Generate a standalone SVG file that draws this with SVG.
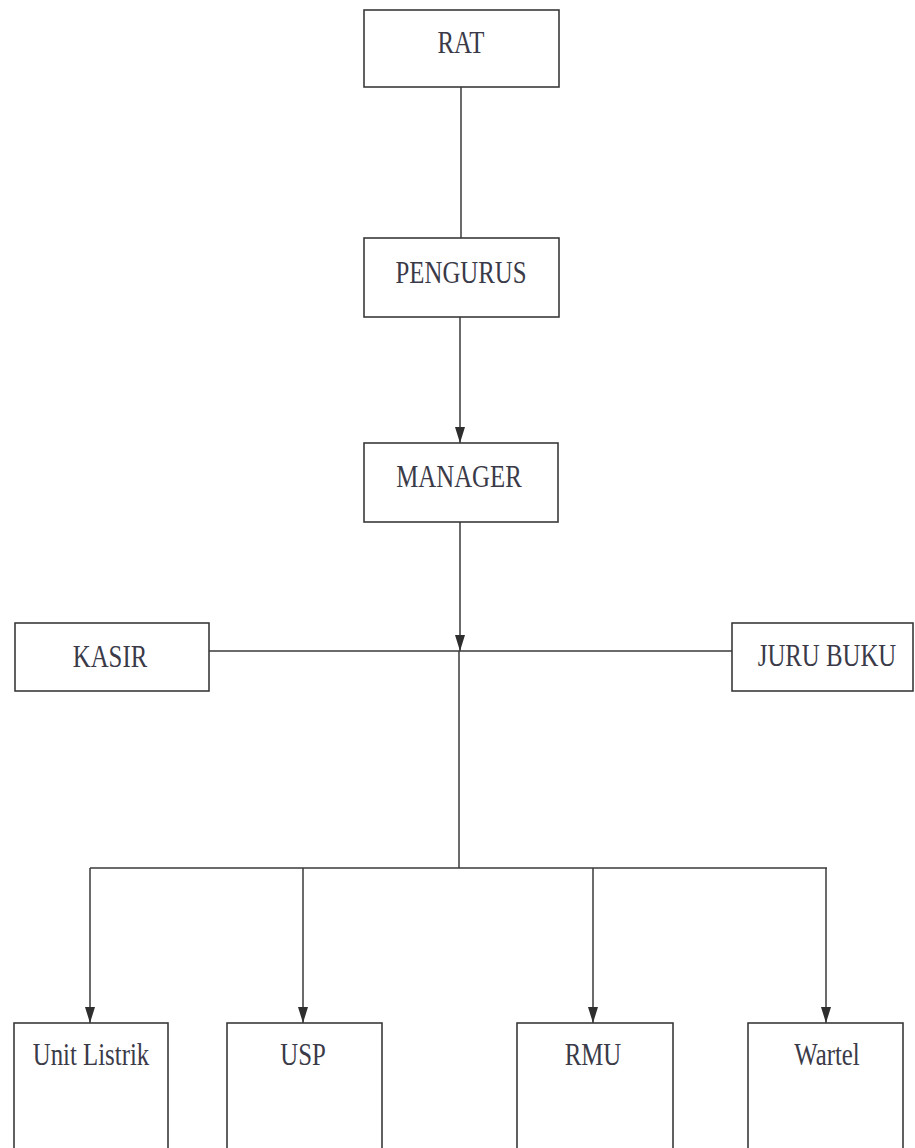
<svg xmlns="http://www.w3.org/2000/svg" width="915" height="1148" viewBox="0 0 915 1148">
<style>
.box{fill:#fff;stroke:#3a3a3a;stroke-width:1.6}
.lbl{font-family:'Times New Roman',Times,'Liberation Serif',serif;font-size:31px;fill:#3a3a48;text-anchor:middle}
.ln{fill:none;stroke:#3a3a3a;stroke-width:1.5}
</style>
<defs>
<marker id="ah" markerUnits="userSpaceOnUse" markerWidth="17" markerHeight="11" refX="16" refY="5.5" orient="auto">
<path d="M0,0.5 L16,5.5 L0,10.5 z" fill="#2e2e2e"/>
</marker>
</defs>
<rect width="915" height="1148" fill="#fff"/>
<g id="connectors">
<line class="ln" x1="461" y1="87" x2="461" y2="238"/>
<line class="ln" x1="460" y1="317" x2="460" y2="443" marker-end="url(#ah)"/>
<line class="ln" x1="460" y1="522" x2="460" y2="651" marker-end="url(#ah)"/>
<line class="ln" x1="209" y1="651" x2="732" y2="651"/>
<line class="ln" x1="459" y1="651" x2="459" y2="868"/>
<line class="ln" x1="90" y1="868" x2="827" y2="868"/>
<line class="ln" x1="90" y1="868" x2="90" y2="1023" marker-end="url(#ah)"/>
<line class="ln" x1="303" y1="868" x2="303" y2="1023" marker-end="url(#ah)"/>
<line class="ln" x1="593" y1="868" x2="593" y2="1023" marker-end="url(#ah)"/>
<line class="ln" x1="826" y1="868" x2="826" y2="1023" marker-end="url(#ah)"/>
</g>
<g id="rat"><rect class="box" x="364" y="10" width="195" height="77"/><text class="lbl" transform="translate(461,53) scale(0.8,1)">RAT</text></g>
<g id="pengurus"><rect class="box" x="364" y="238" width="195" height="79"/><text class="lbl" transform="translate(461,283) scale(0.8,1)">PENGURUS</text></g>
<g id="manager"><rect class="box" x="364" y="443" width="194" height="79"/><text class="lbl" transform="translate(459,487) scale(0.8,1)">MANAGER</text></g>
<g id="kasir"><rect class="box" x="15" y="623" width="194" height="68"/><text class="lbl" transform="translate(110,667) scale(0.8,1)">KASIR</text></g>
<g id="jurubuku"><rect class="box" x="732" y="623" width="181" height="68"/><text class="lbl" transform="translate(827,666) scale(0.8,1)">JURU BUKU</text></g>
<g id="unitlistrik"><rect class="box" x="14" y="1023" width="154" height="140"/><text class="lbl" transform="translate(91,1065) scale(0.8,1)">Unit Listrik</text></g>
<g id="usp"><rect class="box" x="227" y="1023" width="155" height="140"/><text class="lbl" transform="translate(303,1065) scale(0.8,1)">USP</text></g>
<g id="rmu"><rect class="box" x="517" y="1023" width="156" height="140"/><text class="lbl" transform="translate(593,1065) scale(0.8,1)">RMU</text></g>
<g id="wartel"><rect class="box" x="748" y="1023" width="155" height="140"/><text class="lbl" transform="translate(827,1065) scale(0.8,1)">Wartel</text></g>
</svg>
